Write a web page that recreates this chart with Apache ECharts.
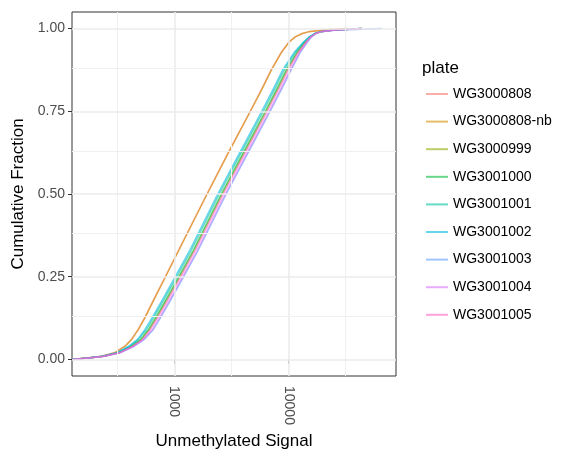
<!DOCTYPE html>
<html>
<head>
<meta charset="utf-8">
<script src="https://cdn.jsdelivr.net/npm/echarts@6/dist/echarts.min.js"></script>
<style>
  html, body { margin: 0; padding: 0; background: #fff; }
  #chart { width: 564px; height: 451px; }
</style>
</head>
<body>
<div id="chart"></div>
<script>
// cumulative fraction levels
var fracLevels = [0, 0.005, 0.01, 0.02, 0.04, 0.06, 0.09, 0.125, 0.18, 0.25, 0.33, 0.5,
                  0.625, 0.75, 0.82, 0.875, 0.93, 0.96, 0.975, 0.985, 0.99, 0.995, 1];

// unmethylated signal reached at each level, per plate
var plates = ['WG3000808', 'WG3000808-nb', 'WG3000999', 'WG3001000', 'WG3001001',
              'WG3001002', 'WG3001003', 'WG3001004', 'WG3001005'];
var sigWG3000808   = [127, 177, 230, 299, 369, 420, 481, 548, 659, 834, 1091, 1933,
                      2972, 4630, 5898, 7069, 8736, 10162, 11469, 13207, 14906, 19770, 32540];
var sigWG3000808nb = [127, 178, 232, 301, 371, 423, 484, 552, 663, 839, 1097, 1943,
                      2987, 4653, 5927, 7104, 8780, 10210, 11520, 13270, 14980, 19870, 32700];
var sigWG3000999   = [127, 184, 241, 326, 429, 514, 604, 696, 860, 1117, 1497, 2633,
                      4102, 6393, 8142, 9761, 12188, 14175, 15522, 17172, 18988, 24400, 44020];
var sigWG3001000   = [127, 184, 239, 323, 420, 504, 592, 682, 843, 1095, 1467, 2580,
                      4020, 6265, 7979, 9566, 11944, 14035, 15522, 17172, 18988, 24185, 44020];
var sigWG3001001   = [127, 182, 237, 317, 407, 484, 569, 655, 810, 1052, 1409, 2478,
                      3861, 6018, 7664, 9188, 11588, 13754, 15367, 17172, 18988, 24185, 43600];
var sigWG3001002   = [127, 182, 234, 313, 399, 474, 552, 636, 786, 1020, 1367, 2404,
                      3746, 5838, 7436, 8915, 11358, 13617, 15212, 17000, 18988, 24185, 43140];
var sigWG3001003   = [127, 188, 246, 336, 446, 546, 655, 754, 932, 1211, 1622, 2853,
                      4446, 6929, 8825, 10580, 12816, 14760, 15998, 17522, 19180, 26000, 65900];
var sigWG3001004   = [127, 186, 244, 333, 442, 535, 642, 739, 914, 1187, 1590, 2797,
                      4358, 6791, 8649, 10370, 12688, 14613, 15840, 17344, 19180, 24400, 44020];
var sigWG3001005   = [127, 186, 244, 330, 433, 525, 616, 710, 878, 1140, 1527, 2686,
                      4186, 6523, 8308, 9960, 12311, 14321, 15678, 17344, 19180, 24400, 44020];
var plateSignals = [sigWG3000808, sigWG3000808nb, sigWG3000999, sigWG3001000, sigWG3001001,
                    sigWG3001002, sigWG3001003, sigWG3001004, sigWG3001005];

var xTicks = [1000, 10000];
var xMinorGrid = [316.23, 3162.3, 31623];
var yTicks = [0, 0.25, 0.5, 0.75, 1];
var yMinorGrid = [0.125, 0.375, 0.625, 0.875];

var colors = ['rgba(248,118,109,0.6)', 'rgba(211,146,0,0.6)', 'rgba(147,170,0,0.6)',
              'rgba(0,186,56,0.6)', 'rgba(0,193,159,0.6)', 'rgba(0,185,227,0.6)',
              'rgba(97,156,255,0.6)', 'rgba(219,114,251,0.6)', 'rgba(255,97,195,0.6)'];

var FONT = 'Liberation Sans, Helvetica, Arial, sans-serif';

var myChart = echarts.init(document.getElementById('chart'));

var gridLines = [];
xTicks.forEach(function (v) { gridLines.push({ xAxis: v, lineStyle: { color: '#EBEBEB', width: 1.6, type: 'solid' } }); });
xMinorGrid.forEach(function (v) { gridLines.push({ xAxis: v, lineStyle: { color: '#F0F0F0', width: 1, type: 'solid' } }); });
yTicks.forEach(function (v) { gridLines.push({ yAxis: v, lineStyle: { color: '#EBEBEB', width: 1.6, type: 'solid' } }); });
yMinorGrid.forEach(function (v) { gridLines.push({ yAxis: v, lineStyle: { color: '#F0F0F0', width: 1, type: 'solid' } }); });

var series = [{
    name: 'grid',
    type: 'line',
    z: 1,
    data: [],
    silent: true,
    markLine: {
        silent: true,
        symbol: ['none', 'none'],
        label: { show: false },
        animation: false,
        data: gridLines
    }
}];

plates.forEach(function (p, i) {
    series.push({
        name: p,
        type: 'line',
        z: 3,
        showSymbol: false,
        smooth: false,
        color: colors[i],
        lineStyle: { width: 1.5, color: colors[i], join: 'round' },
        data: plateSignals[i].map(function (s, k) { return [s, fracLevels[k]]; })
    });
});

option = {
    animation: false,
    backgroundColor: '#fff',
    title: {
        text: 'plate',
        left: 417,
        top: 55,
        textStyle: { fontFamily: FONT, fontSize: 17, fontWeight: 'normal', color: '#000' }
    },
    legend: {
        orient: 'vertical',
        left: 426,
        top: 84,
        padding: 0,
        icon: 'rect',
        itemWidth: 22,
        itemHeight: 2,
        itemGap: 7.6,
        data: plates,
        textStyle: { fontFamily: FONT, fontSize: 14, color: '#000', lineHeight: 20 }
    },
    grid: {
        left: 72,
        right: 168,
        top: 12,
        bottom: 75,
        containLabel: false,
        outerBoundsMode: 'none',
        show: true,
        backgroundColor: '#fff',
        borderColor: '#333',
        borderWidth: 1
    },
    xAxis: {
        type: 'log',
        logBase: 10,
        min: 127,
        max: 87700,
        name: 'Unmethylated Signal',
        nameLocation: 'middle',
        nameGap: 54,
        nameTextStyle: { fontFamily: FONT, fontSize: 17, color: '#000' },
        axisLine: { show: false },
        splitLine: { show: false },
        minorSplitLine: { show: false },
        axisTick: { show: true, customValues: xTicks, length: 4, lineStyle: { color: '#333' } },
        axisLabel: {
            customValues: xTicks,
            rotate: -90,
            margin: 10,
            fontFamily: FONT,
            fontSize: 14,
            color: '#4D4D4D',
            formatter: function (v) { return String(Math.round(v)); }
        }
    },
    yAxis: {
        type: 'value',
        min: -0.05,
        max: 1.05,
        name: 'Cumulative Fraction',
        nameLocation: 'middle',
        nameGap: 42,
        nameTextStyle: { fontFamily: FONT, fontSize: 17, color: '#000' },
        axisLine: { show: false },
        splitLine: { show: false },
        axisTick: { show: true, customValues: yTicks, length: 4, lineStyle: { color: '#333' } },
        axisLabel: {
            customValues: yTicks,
            margin: 7,
            fontFamily: FONT,
            fontSize: 14,
            color: '#4D4D4D',
            formatter: function (v) { return v.toFixed(2); }
        }
    },
    series: series
};
myChart.setOption(option);
</script>
</body>
</html>
